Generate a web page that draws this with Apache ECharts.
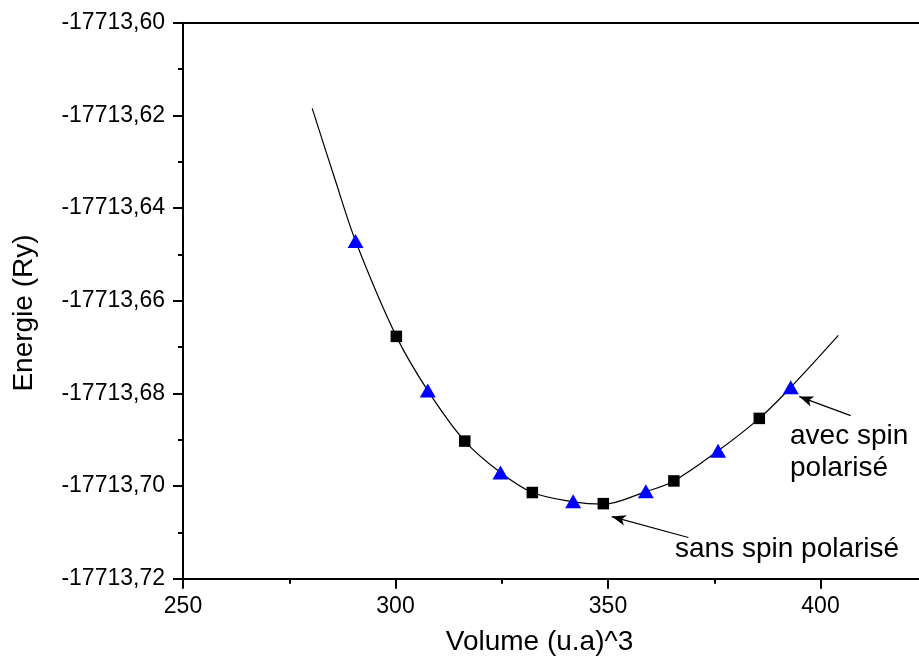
<!DOCTYPE html>
<html>
<head>
<meta charset="utf-8">
<script src="https://cdn.jsdelivr.net/npm/echarts@6/dist/echarts.min.js"></script>
<style>
html,body{margin:0;padding:0;background:#fff;}
#chart{width:919px;height:659px;}
</style>
</head>
<body>
<div id="chart"></div>
<script>
// ---- data ----
const volumesSans = [300.2, 316.3, 332.2, 348.9, 365.5, 385.6];
const energiesSans = [-17713.6677, -17713.6903, -17713.7014, -17713.7038, -17713.6989, -17713.6854];

const volumesAvec = [290.6, 307.6, 324.7, 341.8, 358.9, 375.9, 393.0];
const energiesAvec = [-17713.6471, -17713.6794, -17713.6971, -17713.7033, -17713.7011, -17713.6924, -17713.6787];

const fitVolumes = [280.4, 285.8, 290.6, 300.2, 307.6, 316.3, 324.7, 332.2, 341.8, 348.9, 358.9, 365.5, 375.9, 385.6, 393.0, 404.2];
const fitEnergies = [-17713.6185, -17713.6339, -17713.6471, -17713.6677, -17713.6794, -17713.6903, -17713.6971, -17713.7014, -17713.7034, -17713.7039, -17713.7012, -17713.6989, -17713.6924, -17713.6854, -17713.6787, -17713.6675];

const xTicks = [250, 300, 350, 400];
const yTickLabels = ['-17713,60','-17713,62','-17713,64','-17713,66','-17713,68','-17713,70','-17713,72'];

const xTitle = 'Volume (u.a)^3';
const yTitle = 'Energie (Ry)';
const labelAvec = ['avec spin', 'polarisé'];
const labelSans = 'sans spin polarisé';
// arrows: [fromX, fromY, toX, toY] in data units
const arrowAvec = [407.1, -17713.6848, 395.0, -17713.6807];
const arrowSans = [368.9, -17713.7111, 350.9, -17713.7066];

const FONT = "'Liberation Sans', Arial, Helvetica, sans-serif";
const pairs = (xs, ys) => xs.map((x, i) => [x, ys[i]]);

const chart = echarts.init(document.getElementById('chart'), null, {renderer: 'canvas'});

const option = {
  animation: false,
  backgroundColor: '#ffffff',
  grid: {left: 183, top: 22.7, width: 850, height: 556, containLabel: false, outerBoundsMode: 'none'},
  xAxis: [{
    type: 'value', min: 250, max: 450, interval: 50, position: 'bottom',
    axisLine: {show: true, onZero: false, lineStyle: {color: '#000', width: 2}},
    axisTick: {show: true, inside: false, length: 10, lineStyle: {color: '#000', width: 2}},
    minorTick: {show: true, splitNumber: 2, length: 5, lineStyle: {color: '#000', width: 2}},
    splitLine: {show: false},
    axisLabel: {show: true, margin: 16, color: '#000', fontFamily: FONT, fontSize: 23,
      formatter: v => xTicks.indexOf(v) >= 0 ? String(v) : ''}
  }, {
    type: 'value', min: 250, max: 450, interval: 50, position: 'top',
    axisLine: {show: true, onZero: false, lineStyle: {color: '#000', width: 2}},
    axisTick: {show: false}, axisLabel: {show: false}, splitLine: {show: false}
  }],
  yAxis: [{
    type: 'value', min: -17713.72, max: -17713.60, interval: 0.02,
    axisLine: {show: true, onZero: false, lineStyle: {color: '#000', width: 2}},
    axisTick: {show: true, inside: false, length: 10, lineStyle: {color: '#000', width: 2}},
    minorTick: {show: true, splitNumber: 2, length: 5, lineStyle: {color: '#000', width: 2}},
    splitLine: {show: false},
    axisLabel: {show: true, margin: 18, color: '#000', fontFamily: FONT, fontSize: 23,
      formatter: (v) => {
        const idx = Math.round((-17713.60 - v) / 0.02);
        return yTickLabels[idx] || '';
      }}
  }],
  series: [
    {
      name: 'fit', type: 'line', data: pairs(fitVolumes, fitEnergies),
      smooth: 0.35, showSymbol: false, symbol: 'none',
      lineStyle: {color: '#000', width: 1.2}, z: 2,
      markLine: {
        silent: true, symbol: ['none', 'arrow'], symbolSize: [8, 14],
        lineStyle: {color: '#000', width: 1.2, type: 'solid'},
        label: {show: false},
        data: [
          [{coord: [arrowAvec[0], arrowAvec[1]]}, {coord: [arrowAvec[2], arrowAvec[3]]}],
          [{coord: [arrowSans[0], arrowSans[1]]}, {coord: [arrowSans[2], arrowSans[3]]}]
        ]
      }
    },
    {
      name: 'sans spin polarisé', type: 'scatter', data: pairs(volumesSans, energiesSans),
      symbol: 'rect', symbolSize: 11.5, itemStyle: {color: '#000', opacity: 1}, z: 4
    },
    {
      name: 'avec spin polarisé', type: 'scatter', data: pairs(volumesAvec, energiesAvec),
      symbol: 'triangle', symbolSize: [16, 14], itemStyle: {color: '#0000ff', opacity: 1}, z: 5
    }
  ],
  graphic: [
    {type: 'text', x: 24, y: 313, rotation: Math.PI / 2, z: 10,
      style: {text: yTitle, font: '28px ' + FONT, fill: '#000', align: 'center', verticalAlign: 'middle'}},
    {type: 'text', x: 539.5, y: 642, z: 10,
      style: {text: xTitle, font: '28px ' + FONT, fill: '#000', align: 'center', verticalAlign: 'middle'}},
    {type: 'text', x: 790, y: 436, z: 10,
      style: {text: labelAvec[0], font: '28px ' + FONT, fill: '#000', align: 'left', verticalAlign: 'middle'}},
    {type: 'text', x: 790, y: 468, z: 10,
      style: {text: labelAvec[1], font: '28px ' + FONT, fill: '#000', align: 'left', verticalAlign: 'middle'}},
    {type: 'text', x: 675, y: 549, z: 10,
      style: {text: labelSans, font: '28px ' + FONT, fill: '#000', align: 'left', verticalAlign: 'middle'}}
  ]
};
chart.setOption(option);
</script>
</body>
</html>
